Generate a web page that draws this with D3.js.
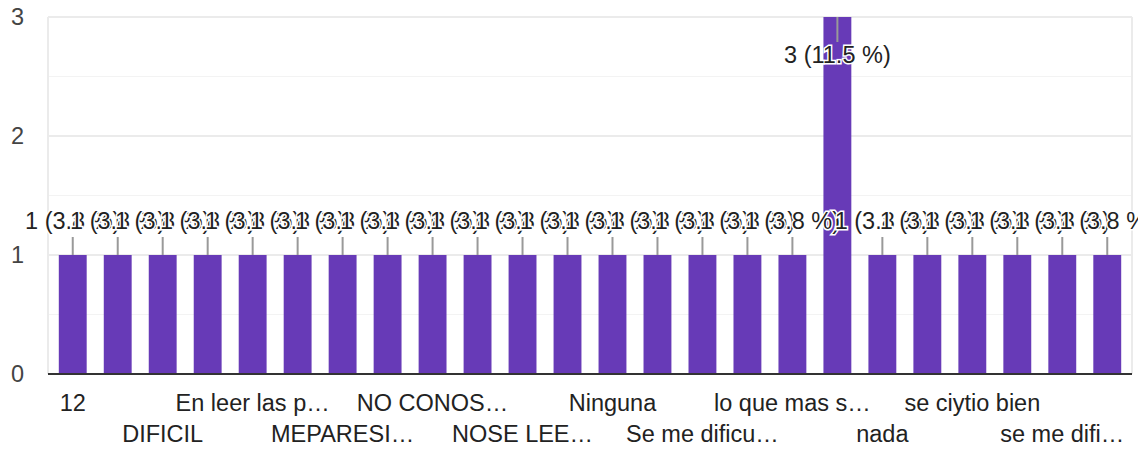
<!DOCTYPE html>
<html>
<head>
<meta charset="utf-8">
<script src="https://cdn.jsdelivr.net/npm/d3@7"></script>
<style>
  body { margin: 0; background: #fff; }
  svg { display: block; font-family: "Liberation Sans", Arial, sans-serif; }
</style>
</head>
<body>
<svg width="1138" height="452"></svg>
<script>
// answers (only every second label is shown on the axis)
var categories = [
    '12', '', 'DIFICIL', '', 'En leer las p…', '', 'MEPARESI…', '', 'NO CONOS…', '',
    'NOSE LEE…', '', 'Ninguna', '', 'Se me dificu…', '', 'lo que mas s…', '', 'nada', '',
    'se ciytio bien', '', 'se me difi…', ''
];
var counts = [1, 1, 1, 1, 1, 1, 1, 1, 1, 1, 1, 1, 1, 1, 1, 1, 1, 3, 1, 1, 1, 1, 1, 1];
var percents = ['3.8', '3.8', '3.8', '3.8', '3.8', '3.8', '3.8', '3.8', '3.8', '3.8', '3.8', '3.8',
    '3.8', '3.8', '3.8', '3.8', '3.8', '11.5', '3.8', '3.8', '3.8', '3.8', '3.8', '3.8'];
var yTicks = [0, 1, 2, 3];
var yMinor = [0.5, 1.5, 2.5];

var svg = d3.select('svg');
var plotLeft = 48, plotRight = 1132, plotTop = 17, plotBottom = 374;
var fontSize = 23.5;

var x = d3.scaleBand()
    .domain(d3.range(categories.length))
    .range([plotLeft, plotRight])
    .paddingInner(0.38)
    .paddingOuter(0.24);
var y = d3.scaleLinear().domain([0, 3]).range([plotBottom, plotTop]);

// grid
svg.append('g').selectAll('line')
    .data(yMinor)
    .enter().append('line')
    .attr('x1', plotLeft).attr('x2', plotRight)
    .attr('y1', function(d) { return y(d); })
    .attr('y2', function(d) { return y(d); })
    .attr('stroke', '#f3f3f3').attr('stroke-width', 1);
svg.append('g').selectAll('line')
    .data(yTicks.slice(1))
    .enter().append('line')
    .attr('x1', plotLeft).attr('x2', plotRight)
    .attr('y1', function(d) { return y(d); })
    .attr('y2', function(d) { return y(d); })
    .attr('stroke', '#ebebeb').attr('stroke-width', 2);
[plotLeft, plotRight].forEach(function(px) {
    svg.append('line').attr('x1', px).attr('x2', px).attr('y1', plotTop).attr('y2', plotBottom)
        .attr('stroke', '#ebebeb').attr('stroke-width', 2);
});

// y labels
svg.append('g').selectAll('text')
    .data(yTicks)
    .enter().append('text')
    .attr('x', 24)
    .attr('y', function(d) { return y(d) + 8; })
    .attr('text-anchor', 'end')
    .attr('font-size', fontSize)
    .attr('fill', '#444')
    .text(function(d) { return d; });

// bars
svg.append('g').selectAll('rect')
    .data(counts)
    .enter().append('rect')
    .attr('x', function(d, i) { return x(i); })
    .attr('width', x.bandwidth())
    .attr('y', function(d) { return y(d); })
    .attr('height', function(d) { return plotBottom - y(d); })
    .attr('fill', '#673ab7');

// baseline
svg.append('line').attr('x1', plotLeft).attr('x2', plotRight).attr('y1', plotBottom).attr('y2', plotBottom)
    .attr('stroke', '#333').attr('stroke-width', 2);

// annotations: stems + labels
var ann = svg.append('g');
counts.forEach(function(d, i) {
    var cx = x(i) + x.bandwidth() / 2;
    var barTop = y(d);
    var inside = barTop - 40 < plotTop;
    var stemEnd = inside ? barTop + 25 : barTop - 18;
    ann.append('line')
        .attr('x1', cx).attr('x2', cx)
        .attr('y1', barTop).attr('y2', stemEnd)
        .attr('stroke', '#999').attr('stroke-width', 2);
    ann.append('text')
        .attr('x', cx)
        .attr('y', inside ? stemEnd + 21 : stemEnd - 8)
        .attr('text-anchor', 'middle')
        .attr('font-size', fontSize)
        .attr('fill', '#222')
        .attr('stroke', '#fff')
        .attr('stroke-width', 3)
        .attr('paint-order', 'stroke')
        .text(d + ' (' + percents[i] + ' %)');
});

// x labels, two alternating rows
svg.append('g').selectAll('text')
    .data(categories)
    .enter().filter(function(d, i) { return i % 2 === 0; })
    .append('text')
    .attr('x', function(d, i) { return x(i * 2) + x.bandwidth() / 2; })
    .attr('y', function(d, i) { return i % 2 === 0 ? 411 : 442; })
    .attr('text-anchor', 'middle')
    .attr('font-size', fontSize)
    .attr('fill', '#222')
    .text(function(d) { return d; });
</script>
</body>
</html>
